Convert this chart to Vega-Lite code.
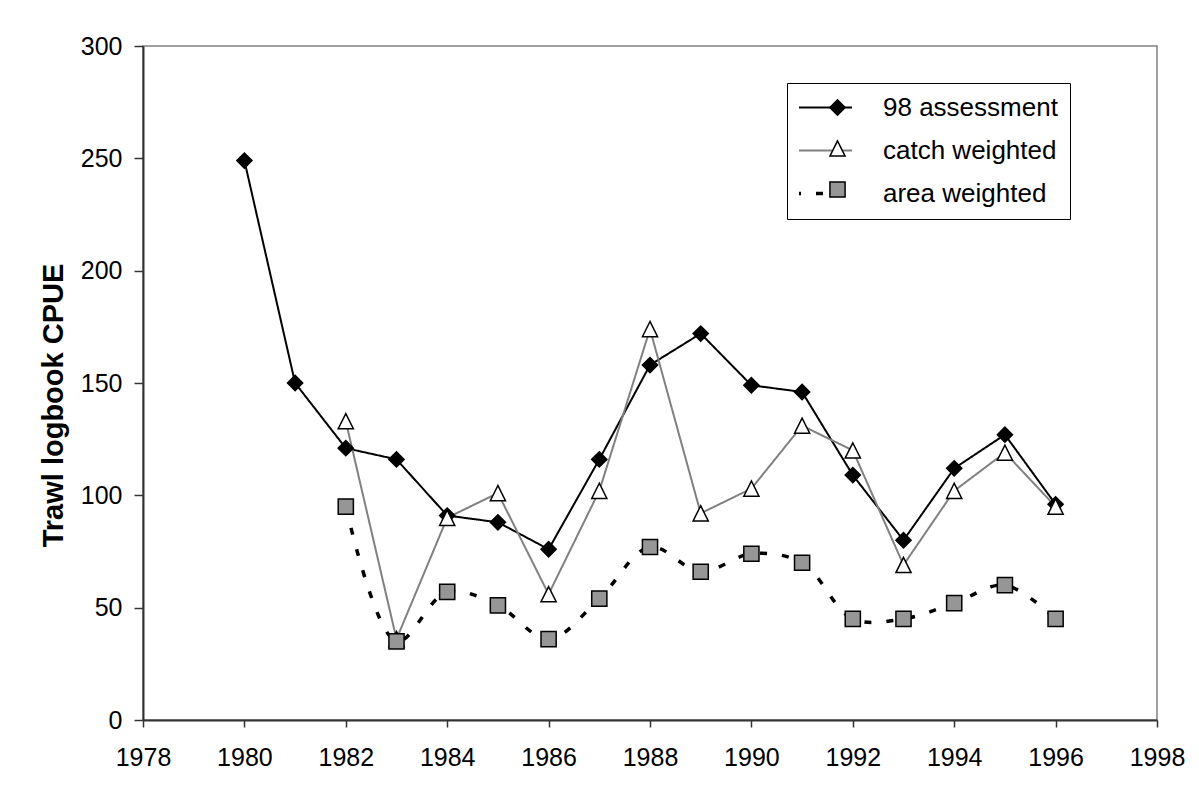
{
  "$schema": "https://vega.github.io/schema/vega-lite/v6.json",
  "width": 1014,
  "height": 674,
  "autosize": {"type": "none"},
  "padding": {"left": 143, "top": 46, "right": 42, "bottom": 81},
  "background": "white",
  "config": {
    "font": "Liberation Sans",
    "view": {"stroke": "#808080", "strokeWidth": 1.5},
    "axis": {
      "grid": false,
      "domainColor": "#333333",
      "domainWidth": 2,
      "tickColor": "#333333",
      "tickWidth": 1.5,
      "labelColor": "black",
      "labelFont": "Liberation Sans",
      "labelFontSize": 25,
      "titleColor": "black",
      "titleFont": "Liberation Sans"
    }
  },
  "data": {
    "values": [
      {"series": "98 assessment", "year": 1980, "value": 249},
      {"series": "98 assessment", "year": 1981, "value": 150},
      {"series": "98 assessment", "year": 1982, "value": 121},
      {"series": "98 assessment", "year": 1983, "value": 116},
      {"series": "98 assessment", "year": 1984, "value": 91},
      {"series": "98 assessment", "year": 1985, "value": 88},
      {"series": "98 assessment", "year": 1986, "value": 76},
      {"series": "98 assessment", "year": 1987, "value": 116},
      {"series": "98 assessment", "year": 1988, "value": 158},
      {"series": "98 assessment", "year": 1989, "value": 172},
      {"series": "98 assessment", "year": 1990, "value": 149},
      {"series": "98 assessment", "year": 1991, "value": 146},
      {"series": "98 assessment", "year": 1992, "value": 109},
      {"series": "98 assessment", "year": 1993, "value": 80},
      {"series": "98 assessment", "year": 1994, "value": 112},
      {"series": "98 assessment", "year": 1995, "value": 127},
      {"series": "98 assessment", "year": 1996, "value": 96},
      {"series": "catch weighted", "year": 1982, "value": 133},
      {"series": "catch weighted", "year": 1983, "value": 36},
      {"series": "catch weighted", "year": 1984, "value": 90},
      {"series": "catch weighted", "year": 1985, "value": 101},
      {"series": "catch weighted", "year": 1986, "value": 56},
      {"series": "catch weighted", "year": 1987, "value": 102},
      {"series": "catch weighted", "year": 1988, "value": 174},
      {"series": "catch weighted", "year": 1989, "value": 92},
      {"series": "catch weighted", "year": 1990, "value": 103},
      {"series": "catch weighted", "year": 1991, "value": 131},
      {"series": "catch weighted", "year": 1992, "value": 120},
      {"series": "catch weighted", "year": 1993, "value": 69},
      {"series": "catch weighted", "year": 1994, "value": 102},
      {"series": "catch weighted", "year": 1995, "value": 119},
      {"series": "catch weighted", "year": 1996, "value": 95},
      {"series": "area weighted", "year": 1982, "value": 95},
      {"series": "area weighted", "year": 1983, "value": 35},
      {"series": "area weighted", "year": 1984, "value": 57},
      {"series": "area weighted", "year": 1985, "value": 51},
      {"series": "area weighted", "year": 1986, "value": 36},
      {"series": "area weighted", "year": 1987, "value": 54},
      {"series": "area weighted", "year": 1988, "value": 77},
      {"series": "area weighted", "year": 1989, "value": 66},
      {"series": "area weighted", "year": 1990, "value": 74},
      {"series": "area weighted", "year": 1991, "value": 70},
      {"series": "area weighted", "year": 1992, "value": 45},
      {"series": "area weighted", "year": 1993, "value": 45},
      {"series": "area weighted", "year": 1994, "value": 52},
      {"series": "area weighted", "year": 1995, "value": 60},
      {"series": "area weighted", "year": 1996, "value": 45}
    ]
  },
  "encoding": {
    "x": {
      "field": "year",
      "type": "quantitative",
      "scale": {"domain": [1978, 1998], "nice": false, "zero": false},
      "axis": {
        "title": null,
        "values": [1978, 1980, 1982, 1984, 1986, 1988, 1990, 1992, 1994, 1996, 1998],
        "format": "d",
        "tickSize": 7,
        "labelPadding": 18,
        "labelFlush": false,
        "labelOverlap": false
      }
    },
    "y": {
      "field": "value",
      "type": "quantitative",
      "scale": {"domain": [0, 300], "nice": false},
      "axis": {
        "title": "Trawl logbook CPUE",
        "values": [0, 50, 100, 150, 200, 250, 300],
        "tickSize": 9,
        "labelPadding": 12,
        "labelFlush": false,
        "titleFontSize": 29,
        "titleFontWeight": "bold",
        "titleAngle": -90,
        "titleX": -81,
        "titleY": 359,
        "titleAlign": "center",
        "titleBaseline": "alphabetic"
      }
    }
  },
  "layer": [
    {
      "transform": [{"filter": "datum.series !== 'area weighted'"}],
      "mark": {"type": "line", "interpolate": "linear", "strokeWidth": 2},
      "encoding": {
        "color": {
          "field": "series",
          "type": "nominal",
          "scale": {"domain": ["98 assessment", "catch weighted", "area weighted"], "range": ["black", "#808080", "black"]},
          "legend": {
            "orient": "none",
            "legendX": 644,
            "legendY": 37,
            "title": null,
            "symbolType": "stroke",
            "symbolSize": 6400,
            "clipHeight": 25,
            "rowPadding": 16,
            "padding": 12,
            "strokeColor": "black",
            "labelFontSize": 26,
            "labelColor": "black",
            "labelFont": "Liberation Sans",
            "labelOffset": 58,
            "labelLimit": 0,
            "encode": {"symbols": {"update": {"strokeWidth": {"signal": "datum.value === 'area weighted' ? 3.5 : 2"}}}}
          }
        },
        "strokeDash": {
          "field": "series",
          "type": "nominal",
          "scale": {"domain": ["98 assessment", "catch weighted", "area weighted"], "range": [[1, 0], [1, 0], [7, 15]]}
        }
      }
    },
    {
      "transform": [{"filter": "datum.series === 'area weighted'"}],
      "mark": {"type": "line", "interpolate": "catmull-rom", "strokeWidth": 3.5},
      "encoding": {
        "color": {"field": "series", "type": "nominal"},
        "strokeDash": {"field": "series", "type": "nominal"}
      }
    },
    {
      "mark": {"type": "point", "filled": true, "stroke": "black", "strokeWidth": 1.5, "opacity": 1, "size": 230},
      "encoding": {
        "fill": {
          "field": "series",
          "type": "nominal",
          "scale": {"domain": ["98 assessment", "catch weighted", "area weighted", "-"], "range": ["black", "white", "#969696", "black"]},
          "legend": {
            "orient": "none",
            "legendX": 674,
            "legendY": 37,
            "title": null,
            "values": ["98 assessment", "catch weighted", "area weighted"],
            "clipHeight": 25,
            "rowPadding": 16,
            "padding": 12,
            "symbolSize": 230,
            "symbolStrokeColor": "black",
            "symbolStrokeWidth": 1.5,
            "symbolOpacity": 1,
            "labelExpr": "''",
            "encode": {"symbols": {"update": {"stroke": {"value": "black"}, "strokeWidth": {"value": 1.5}, "size": {"value": 230}}}}
          }
        },
        "shape": {
          "field": "series",
          "type": "nominal",
          "scale": {"domain": ["98 assessment", "catch weighted", "area weighted", "-"], "range": ["diamond", "M0,-1L-1,1L1,1Z", "square", "circle"]},
          "legend": {
            "orient": "none",
            "legendX": 674,
            "legendY": 37,
            "title": null,
            "values": ["98 assessment", "catch weighted", "area weighted"],
            "clipHeight": 25,
            "rowPadding": 16,
            "padding": 12,
            "symbolSize": 230,
            "symbolStrokeColor": "black",
            "symbolStrokeWidth": 1.5,
            "symbolOpacity": 1,
            "labelExpr": "''",
            "encode": {"symbols": {"update": {"stroke": {"value": "black"}, "strokeWidth": {"value": 1.5}, "size": {"value": 230}}}}
          }
        }
      }
    }
  ]
}
